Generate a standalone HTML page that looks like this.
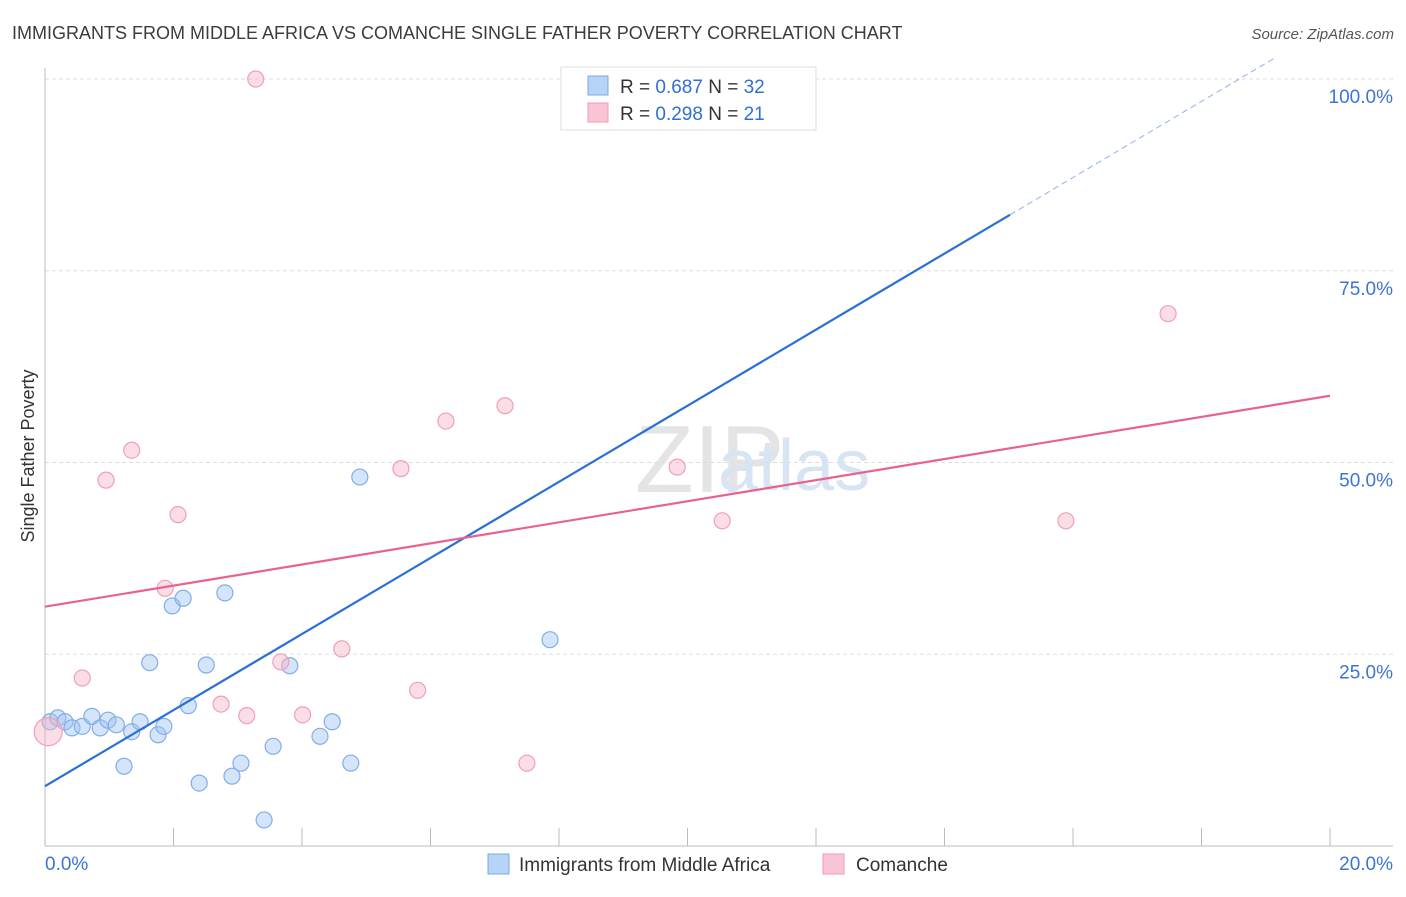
<!DOCTYPE html>
<html><head><meta charset="utf-8"><style>
body{margin:0;background:#fff;font-family:"Liberation Sans",sans-serif}
svg text{font-family:"Liberation Sans",sans-serif}
</style></head><body>
<svg id="c" width="1406" height="892">
<text x="12" y="39" font-size="18" fill="#3c3c3c">IMMIGRANTS FROM MIDDLE AFRICA VS COMANCHE SINGLE FATHER POVERTY CORRELATION CHART</text>
<text x="1394" y="39" font-size="15" fill="#555" text-anchor="end" font-style="italic">Source: ZipAtlas.com</text>
<text x="34" y="456" font-size="18" fill="#333" transform="rotate(-90 34 456)" text-anchor="middle">Single Father Poverty</text>
<text x="635" y="492" font-size="96" fill="#e4e4e4" font-family="Liberation Serif">ZIP</text>
<text x="718" y="490" font-size="72" fill="#d6e4f3">atlas</text>
<g id="grid"></g><g id="marks"></g>
<g>
<rect x="561" y="67" width="255" height="63" fill="#fff" stroke="#ddd"/>
<rect x="588" y="76" width="20" height="19" fill="#b7d3f5" stroke="#7aa9e6"/>
<rect x="588" y="103" width="20" height="19" fill="#f9c5d5" stroke="#ee9ab3"/>
<text x="620" y="93" font-size="19" fill="#333">R = <tspan fill="#2f6fd6">0.687</tspan>   N = <tspan fill="#2f6fd6">32</tspan></text>
<text x="620" y="120" font-size="19" fill="#333">R = <tspan fill="#2f6fd6">0.298</tspan>   N =  <tspan fill="#2f6fd6">21</tspan></text>
</g>
<g>
<rect x="488" y="854" width="21" height="20" fill="#b7d3f5" stroke="#7aa9e6"/>
<text x="519" y="871" font-size="19" fill="#333">Immigrants from Middle Africa</text>
<rect x="823" y="854" width="21" height="20" fill="#f9c5d5" stroke="#ee9ab3"/>
<text x="856" y="871" font-size="19" fill="#333">Comanche</text>
</g>
</svg>
<script>
const blueX=[0.08,0.20,0.31,0.42,0.58,0.73,0.86,0.98,1.11,1.23,1.35,1.48,1.63,1.76,1.85,1.98,2.15,2.23,2.40,2.51,2.80,2.91,3.05,3.41,3.55,3.81,4.28,4.47,4.76,4.90,7.86,11.47];
const blueY=[16.2,16.7,16.2,15.4,15.6,16.9,15.4,16.4,15.8,10.4,14.9,16.2,23.9,14.5,15.6,31.3,32.3,18.3,8.2,23.6,33.0,9.1,10.8,3.4,13.0,23.5,14.3,16.2,10.8,48.1,26.9,100];
const pinkX=[0.05,0.58,0.95,1.35,1.87,2.07,2.74,3.14,3.28,3.67,4.01,4.62,5.54,5.80,6.24,7.16,7.50,9.84,10.54,15.89,17.48];
const pinkY=[14.9,21.9,47.7,51.6,33.6,43.2,18.5,17.0,100,24.0,17.1,25.7,49.2,20.3,55.4,57.4,10.8,49.4,42.4,42.4,69.4];
const blueTrend=[7.8,4.96];
const pinkTrend=[31.2,1.375];
const yTicks=[25,50,75,100];
const xTickLabels=["0.0%","20.0%"];
const NS="http://www.w3.org/2000/svg";
const sx=v=>45+v/20*1285, sy=v=>846-v/100*767;
function mk(tag,a,p){const e=document.createElementNS(NS,tag);for(const k in a)e.setAttribute(k,a[k]);p.appendChild(e);return e;}
const G=document.getElementById('grid'),M=document.getElementById('marks');
yTicks.forEach(t=>{
 const l=mk('line',{x1:45,x2:1393,y1:sy(t),y2:sy(t),stroke:'#ddd','stroke-dasharray':'4 3'},G);
 
 
 const tx=mk('text',{x:1393,y:sy(t)+24,'text-anchor':'end','font-size':19,fill:'#3d74d4'},G);tx.textContent=t.toFixed(1)+'%';
 
 
});
const ax=mk('line',{x1:45,x2:45,y1:68,y2:846,stroke:'#bbb'},G);


const bx=mk('line',{x1:45,x2:1393,y1:846,y2:846,stroke:'#bbb'},G);


for(let i=0;i<=10;i++){const t=mk('line',{x1:sx(i*2),x2:sx(i*2),y1:828,y2:846,stroke:'#bbb'},G);
 
 }
[[0,45,'start'],[20,1393,'end']].forEach((d,i)=>{const t=mk('text',{x:d[1],y:870,'text-anchor':d[2],'font-size':19,fill:'#3d74d4'},G);t.textContent=xTickLabels[i];
 
 });
function pts(X,Y,f,s,name){X.forEach((x,i)=>{const r=(i===0&&name==='pink-point')?14:8;
 const c=mk('circle',{cx:sx(x),cy:sy(Y[i]),r:r,fill:f,stroke:s,'stroke-width':1.2},M);
 
 });}
pts(blueX,blueY,'rgba(160,196,242,0.45)','#82aee8','blue-point');
pts(pinkX,pinkY,'rgba(247,180,200,0.45)','#eea0b8','pink-point');
const bEnd=15.02;
const bl=mk('line',{x1:sx(0),y1:sy(blueTrend[0]),x2:sx(bEnd),y2:sy(blueTrend[0]+blueTrend[1]*bEnd),stroke:'#2a6fd8','stroke-width':2.2},M);


const bx2=(100+2.8-blueTrend[0])/blueTrend[1];
const bd=mk('line',{x1:sx(bEnd),y1:sy(blueTrend[0]+blueTrend[1]*bEnd),x2:sx(bx2),y2:sy(blueTrend[0]+blueTrend[1]*bx2),stroke:'#8fb3e8','stroke-width':1,'stroke-dasharray':'6 4'},M);


const pl=mk('line',{x1:sx(0),y1:sy(pinkTrend[0]),x2:sx(20),y2:sy(pinkTrend[0]+pinkTrend[1]*20),stroke:'#e8628e','stroke-width':2.2},M);


</script>
</body></html>
